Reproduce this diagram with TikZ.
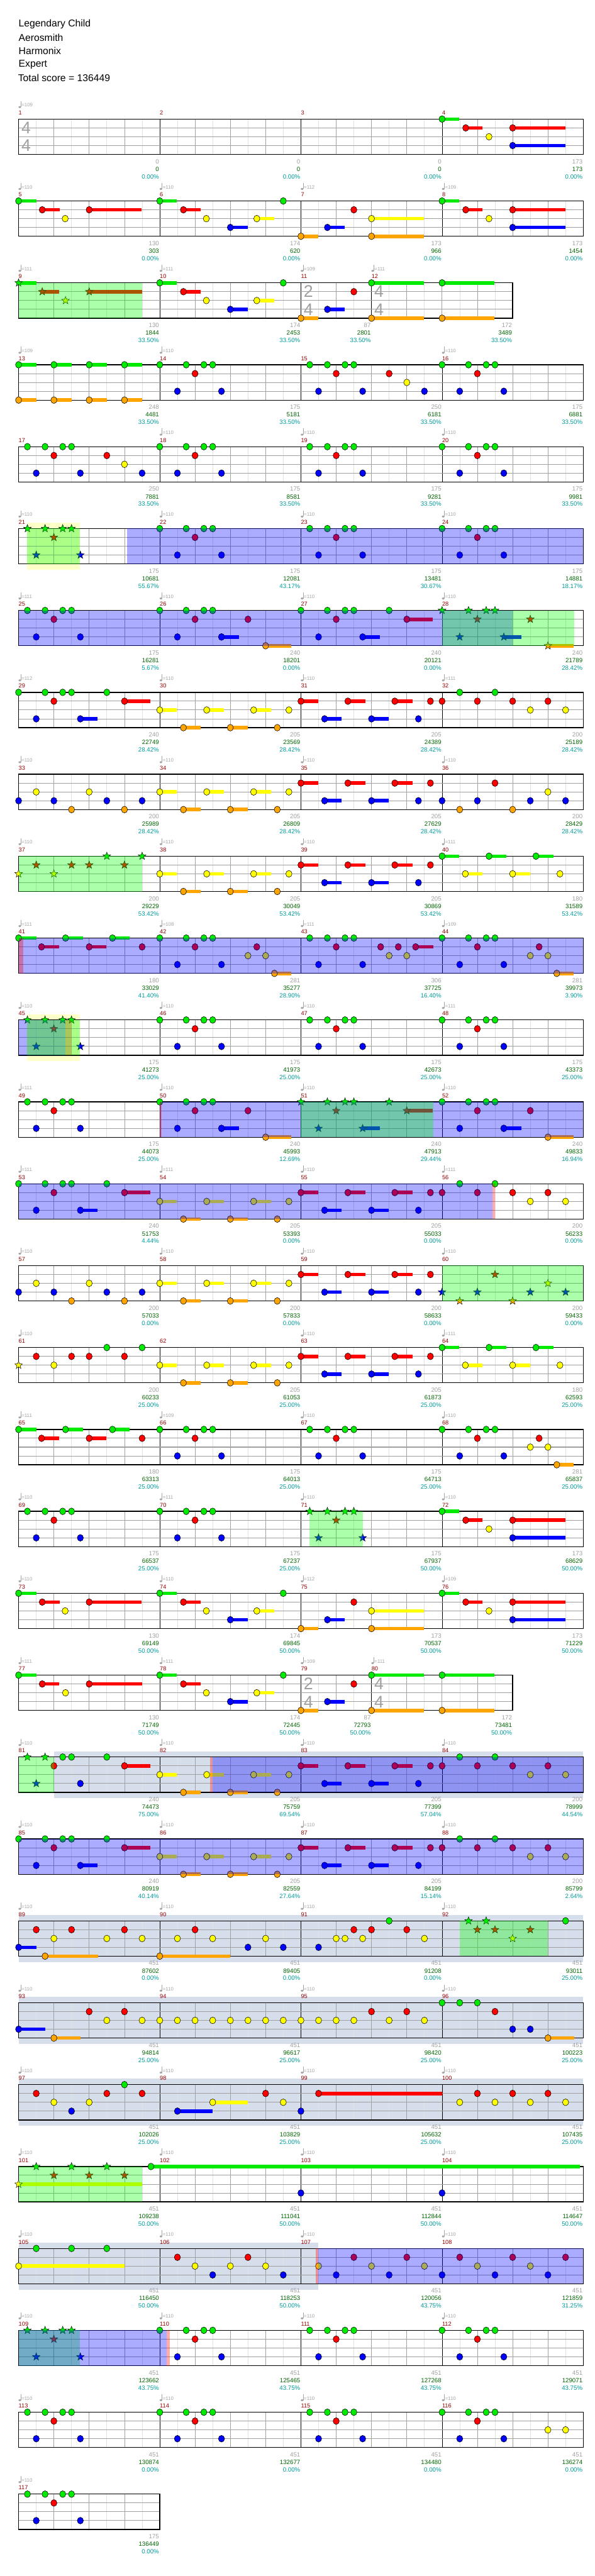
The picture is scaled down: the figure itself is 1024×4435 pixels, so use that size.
\documentclass[tikz,border=0pt]{standalone}
\usepackage{fontspec}
\setmainfont{Liberation Sans}
\usetikzlibrary{shapes.geometric}
\definecolor{lane0}{RGB}{0,235,0}
\definecolor{lane1}{RGB}{255,0,0}
\definecolor{lane2}{RGB}{255,255,0}
\definecolor{lane3}{RGB}{0,0,255}
\definecolor{lane4}{RGB}{255,165,0}
\definecolor{mred}{RGB}{150,0,0}
\definecolor{labgray}{RGB}{160,160,160}
\definecolor{labgreen}{RGB}{0,100,0}
\definecolor{labteal}{RGB}{0,155,155}
\definecolor{tempocol}{RGB}{165,165,165}
\definecolor{solocol}{RGB}{255,255,200}
\definecolor{solobcol}{RGB}{214,222,236}
\definecolor{glight}{RGB}{225,225,225}
\definecolor{gbeat}{RGB}{160,160,160}
\tikzset{
 notedraw/.style={draw=black,line width=0.6pt},
 starnote/.style={star,star points=5,star point ratio=2.4,minimum size=14pt,inner sep=0pt,draw=black,line width=0.5pt},
 gridlight/.style={draw=glight,line width=0.7pt},
 gridbeat/.style={draw=gbeat,line width=0.8pt},
 measline/.style={draw=black,line width=0.7pt},
 laneline/.style={draw=gbeat,line width=1.1pt},
 border/.style={draw=black,line width=1.4pt},
 mnum/.style={anchor=west,inner sep=0pt,text=mred,font=\fontsize{10}{10}\selectfont},
 tempo/.style={anchor=west,inner sep=0pt,text=tempocol,font=\fontsize{8.5}{9}\selectfont},
 lab/.style={anchor=east,inner sep=0pt,xshift=-1pt,font=\fontsize{10.5}{11}\selectfont},
 tsigf/.style={inner sep=0pt,text=gbeat,font=\fontsize{29}{29}\selectfont},
 titletext/.style={anchor=west,inner sep=0pt,font=\fontsize{17}{17}\selectfont},
 rowat/.style={shift={(32,205+141*#1)},x=60.75pt,y=-15.2pt}
}
\newcommand\hn[2]{\draw[notedraw,fill=lane#1] (#2,#1) ellipse [x radius=5.3pt,y radius=5.8pt];}
\newcommand\hs[3]{\fill[lane#1] (#2,#1-0.2) rectangle (#3,#1+0.2);\hn{#1}{#2}}
\newcommand\hx[2]{\node[starnote,fill=lane#1] at (#2,#1) {};}
\newcommand\hxs[3]{\fill[lane#1] (#2,#1-0.2) rectangle (#3,#1+0.2);\hx{#1}{#2}}
\newcommand\meas[7]{%
  \pgfmathtruncatemacro\mnn{2*#2-1}%
  \foreach \k in {1,...,\mnn}{%
    \pgfmathtruncatemacro\modd{mod(\k,2)}%
    \ifnum\modd=1 \draw[gridlight] (#1+\k/2,0)--(#1+\k/2,4);%
    \else \draw[gridbeat] (#1+\k/2,0)--(#1+\k/2,4);\fi}%
  \draw[measline] (#1,0)--(#1,4);%
  \node[mnum] at (#1,-0.72) {#3};%
  \if\relax\detokenize{#4}\relax\else
    \fill[tempocol] ([xshift=2pt]#1,-1.36) ellipse [x radius=2.2pt,y radius=1.7pt];%
    \draw[tempocol,line width=0.6pt] ([xshift=4pt]#1,-1.36)--([xshift=4pt]#1,-2.05);%
    \node[tempo] at ([xshift=5pt]#1,-1.58) {=#4};%
  \fi
  \node[lab,text=labgray] at (#1+#2,4.8) {#5};%
  \node[lab,text=labgreen] at (#1+#2,5.66) {#6};%
  \node[lab,text=labteal] at (#1+#2,6.51) {#7};%
}
\newcommand\staff[1]{\draw[laneline] (0,1)--(#1,1) (0,2)--(#1,2) (0,3)--(#1,3);\draw[border] (0,0) rectangle (#1,4);}
\newcommand\ovb[2]{\fill[blue,opacity=0.33] (#1,0) rectangle (#2,4);}
\newcommand\ovg[2]{\fill[green,opacity=0.33] (#1,0) rectangle (#2,4);}
\newcommand\ovr[2]{\fill[red,opacity=0.33] (#1,0) rectangle (#2,4);}
\newcommand\solo[2]{\fill[solocol] (#1,-0.66) rectangle (#2,4.66);}
\newcommand\solob[2]{\fill[solobcol] (#1,-0.66) rectangle (#2,4.66);}
\newcommand\tsig[3]{\node[tsigf] at ([xshift=13pt]#1,0.97) {#2};\node[tsigf] at ([xshift=13pt]#1,3.01) {#3};}
% patterns
\newcommand\gA[1]{\hn{0}{#1}\hn{0}{#1+.75}\hn{0}{#1+1.25}\hn{0}{#1+1.5}\hn{1}{#1+1}\hn{3}{#1+.5}\hn{3}{#1+1.75}}
\newcommand\gB[1]{\hn{0}{#1+.25}\hn{0}{#1+.75}\hn{0}{#1+1.25}\hn{0}{#1+1.5}\hn{1}{#1+1}\hn{3}{#1+.5}\hn{3}{#1+1.75}}
\newcommand\gBs[1]{\hx{0}{#1+.25}\hx{0}{#1+.75}\hx{0}{#1+1.25}\hx{0}{#1+1.5}\hx{1}{#1+1}\hx{3}{#1+.5}\hx{3}{#1+1.75}}
\newcommand\runY[1]{\hs{2}{#1}{#1+.49}\hs{2}{#1+1.33}{#1+1.82}\hs{2}{#1+2.66}{#1+3.15}\hn{2}{#1+3.66}\hs{4}{#1+.67}{#1+1.15}\hs{4}{#1+2}{#1+2.49}\hn{4}{#1+3.33}}
\newcommand\runR[1]{\hs{1}{#1}{#1+.49}\hs{1}{#1+1.33}{#1+1.82}\hs{1}{#1+2.66}{#1+3.16}\hn{1}{#1+3.67}\hs{3}{#1+.67}{#1+1.16}\hs{3}{#1+2}{#1+2.49}\hn{3}{#1+3.33}}
\newcommand\riff[1]{\hs{0}{#1}{#1+.49}\hs{1}{#1+.67}{#1+1.15}\hs{1}{#1+2}{#1+3.49}\hn{2}{#1+1.33}\hs{3}{#1+2}{#1+3.49}}
\newcommand\pA[1]{\hn{2}{#1+.5}\hn{2}{#1+2}\hn{3}{#1}\hn{3}{#1+1}\hn{3}{#1+2.5}\hn{3}{#1+3.5}\hn{4}{#1+1.5}\hn{4}{#1+3}}
\newcommand\pB[1]{\hn{0}{#1}\hn{0}{#1+.75}\hn{0}{#1+1.25}\hn{0}{#1+1.5}\hn{0}{#1+2.5}\hn{1}{#1+1}\hs{1}{#1+3}{#1+3.74}\hn{3}{#1+.5}\hs{3}{#1+1.75}{#1+2.24}}
\newcommand\pBs[1]{\hx{0}{#1}\hx{0}{#1+.75}\hx{0}{#1+1.25}\hx{0}{#1+1.5}\hx{0}{#1+2.5}\hx{1}{#1+1}\hxs{1}{#1+3}{#1+3.74}\hx{3}{#1+.5}\hxs{3}{#1+1.75}{#1+2.24}}
\newcommand\pC[1]{\hs{0}{#1}{#1+.49}\hs{0}{#1+1.33}{#1+1.82}\hs{0}{#1+2.66}{#1+3.15}\hs{2}{#1+.66}{#1+1.14}\hs{2}{#1+2}{#1+2.5}\hn{2}{#1+3.34}}
\newcommand\pD[1]{\hs{0}{#1}{#1+.5}\hs{0}{#1+1.33}{#1+1.82}\hs{0}{#1+2.66}{#1+3.15}\hs{1}{#1+.65}{#1+1.14}\hs{1}{#1+2}{#1+2.49}\hn{1}{#1+3.5}}
\newcommand\pE[1]{\gA{#1}\hn{1}{#1+2.5}\hs{3}{#1+1.75}{#1+2.24}\hs{4}{#1+3}{#1+3.73}}
\newcommand\pG[1]{\hn{1}{#1}\hn{1}{#1+1}\hn{1}{#1+2}\hn{1}{#1+3}\hn{0}{#1+.5}\hn{0}{#1+1.5}\hn{2}{#1+2.5}\hn{2}{#1+3.5}}
\newcommand\pH[1]{\hn{3}{#1}\hn{3}{#1+1}\hn{3}{#1+2.5}\hn{3}{#1+3.5}\hn{1}{#1+1.5}\hn{2}{#1+3}\hn{4}{#1+.5}\hn{4}{#1+2}}
\newcommand\pHs[1]{\hx{3}{#1}\hx{3}{#1+1}\hx{3}{#1+2.5}\hx{3}{#1+3.5}\hx{1}{#1+1.5}\hx{2}{#1+3}\hx{4}{#1+.5}\hx{4}{#1+2}}
\newcommand\pK[1]{\gA{#1}\hn{1}{#1+2.75}\hn{2}{#1+2.5}\hn{2}{#1+3}\hs{4}{#1+3.25}{#1+3.73}}
\newcommand\introA{\hs{0}{0}{.5}\hs{1}{.67}{1.16}\hs{1}{2}{3.48}\hn{2}{1.32}\hs{3}{6}{6.49}\hs{0}{4}{4.49}\hs{1}{4.67}{5.15}\hn{2}{5.32}\hs{2}{6.75}{7.24}\hn{0}{7.5}\hs{4}{8}{8.49}\hs{3}{8.75}{9.24}\hn{1}{9.5}\hs{2}{10}{11.49}\hs{4}{10}{11.49}\riff{12}}
\newcommand\introB{\hs{0}{4}{4.49}\hs{1}{4.67}{5.15}\hn{2}{5.32}\hs{3}{6}{6.49}\hs{2}{6.75}{7.24}\hn{0}{7.5}\hs{4}{8}{8.49}\hs{3}{8.75}{9.24}\hn{1}{9.5}\hs{0}{10}{11.49}\hs{4}{10}{11.49}\hs{0}{12}{13.49}\hs{4}{12}{13.49}}
\begin{document}
\begin{tikzpicture}[x=1pt,y=-1pt]
\useasboundingbox (0,0) rectangle (1024,4435);
\fill[white] (0,0) rectangle (1024,4435);
\node[titletext] (t1) at (32,41.7) {Legendary Child};
\node[titletext] (t2) at (32,65) {Aerosmith};
\node[titletext] (t3) at (32,88) {Harmonix};
\node[titletext] (t4) at (32,111) {Expert};
\node[titletext] (t5) at (31,134) {Total score = 136449};
% row 0
\begin{scope}[rowat=0]
\meas{0}{4}{1}{109}{0}{0}{0.00\%}\meas{4}{4}{2}{}{0}{0}{0.00\%}\meas{8}{4}{3}{}{0}{0}{0.00\%}\meas{12}{4}{4}{}{173}{173}{0.00\%}
\staff{16}\tsig{0}{4}{4}
\riff{12}
\end{scope}
% row 1
\begin{scope}[rowat=1]
\meas{0}{4}{5}{110}{130}{303}{0.00\%}\meas{4}{4}{6}{110}{174}{620}{0.00\%}\meas{8}{4}{7}{112}{173}{966}{0.00\%}\meas{12}{4}{8}{109}{173}{1454}{0.00\%}
\staff{16}
\introA
\end{scope}
% row 2
\begin{scope}[rowat=2]
\meas{0}{4}{9}{111}{130}{1844}{33.50\%}\meas{4}{4}{10}{111}{174}{2453}{33.50\%}\meas{8}{2}{11}{109}{87}{2801}{33.50\%}\meas{10}{4}{12}{111}{172}{3489}{33.50\%}
\staff{14}\tsig{8}{2}{4}\tsig{10}{4}{4}
\hxs{0}{0}{.5}\hxs{1}{.67}{1.15}\hx{2}{1.33}\hxs{1}{2}{3.5}
\introB
\ovg{0}{3.5}
\end{scope}
% row 3
\begin{scope}[rowat=3]
\meas{0}{4}{13}{109}{248}{4481}{33.50\%}\meas{4}{4}{14}{110}{175}{5181}{33.50\%}\meas{8}{4}{15}{}{250}{6181}{33.50\%}\meas{12}{4}{16}{110}{175}{6881}{33.50\%}
\staff{16}
\foreach \s in {0,1,2,3}{\hs{0}{\s}{\s+.5}\hs{4}{\s}{\s+.5}}
\gA{4}\gB{8}\hn{1}{10.5}\hn{2}{11}\hn{3}{11.5}\gA{12}
\end{scope}
% row 4
\begin{scope}[rowat=4]
\meas{0}{4}{17}{}{250}{7881}{33.50\%}\meas{4}{4}{18}{110}{175}{8581}{33.50\%}\meas{8}{4}{19}{110}{175}{9281}{33.50\%}\meas{12}{4}{20}{110}{175}{9981}{33.50\%}
\staff{16}
\gB{0}\hn{1}{2.5}\hn{2}{3}\hn{3}{3.5}\gA{4}\gB{8}\gA{12}
\end{scope}
% row 5
\begin{scope}[rowat=5]
\solo{.24}{1.73}
\meas{0}{4}{21}{110}{175}{10681}{55.67\%}\meas{4}{4}{22}{110}{175}{12081}{43.17\%}\meas{8}{4}{23}{110}{175}{13481}{30.67\%}\meas{12}{4}{24}{110}{175}{14881}{18.17\%}
\staff{16}
\gBs{0}\gA{4}\gB{8}\gA{12}
\ovg{.24}{1.73}\ovb{3.07}{16}
\end{scope}
% row 6
\begin{scope}[rowat=6]
\meas{0}{4}{25}{111}{175}{16281}{5.67\%}\meas{4}{4}{26}{110}{240}{18201}{0.00\%}\meas{8}{4}{27}{110}{240}{20121}{0.00\%}\meas{12}{4}{28}{110}{240}{21789}{28.42\%}
\staff{16}
\gB{0}\pE{4}\pB{8}
\hx{0}{12}\hx{0}{12.75}\hx{0}{13.25}\hx{0}{13.5}\hx{1}{13}\hx{1}{14.5}\hx{3}{12.5}\hxs{3}{13.75}{14.25}\hxs{4}{15}{15.73}
\ovb{0}{14}\ovg{12}{15.75}
\end{scope}
% row 7
\begin{scope}[rowat=7]
\meas{0}{4}{29}{112}{240}{22749}{28.42\%}\meas{4}{4}{30}{110}{205}{23569}{28.42\%}\meas{8}{4}{31}{110}{205}{24389}{28.42\%}\meas{12}{4}{32}{111}{200}{25189}{28.42\%}
\staff{16}
\pB{0}\runY{4}\runR{8}\pG{12}
\end{scope}
% row 8
\begin{scope}[rowat=8]
\meas{0}{4}{33}{110}{200}{25989}{28.42\%}\meas{4}{4}{34}{110}{205}{26809}{28.42\%}\meas{8}{4}{35}{110}{205}{27629}{28.42\%}\meas{12}{4}{36}{110}{200}{28429}{28.42\%}
\staff{16}
\pA{0}\runY{4}\runR{8}\pH{12}
\end{scope}
% row 9
\begin{scope}[rowat=9]
\meas{0}{4}{37}{110}{200}{29229}{53.42\%}\meas{4}{4}{38}{110}{205}{30049}{53.42\%}\meas{8}{4}{39}{110}{205}{30869}{53.42\%}\meas{12}{4}{40}{111}{180}{31589}{53.42\%}
\staff{16}
\hx{0}{2.5}\hx{0}{3.5}\hx{1}{.5}\hx{1}{1.5}\hx{1}{2}\hx{1}{3}\hx{2}{0}\hx{2}{1}
\runY{4}\runR{8}\pC{12}
\ovg{0}{3.5}
\end{scope}
% row 10
\begin{scope}[rowat=10]
\meas{0}{4}{41}{111}{180}{33029}{41.40\%}\meas{4}{4}{42}{108}{281}{35277}{28.90\%}\meas{8}{4}{43}{111}{306}{37725}{16.40\%}\meas{12}{4}{44}{109}{281}{39973}{3.90\%}
\staff{16}
\pD{0}\pK{4}
\gB{8}\hn{1}{10.26}\hn{1}{10.76}\hs{1}{11.25}{11.75}\hn{2}{10.5}\hn{2}{11}
\pK{12}
\ovb{0}{16}\ovr{0}{.14}
\end{scope}
% row 11
\begin{scope}[rowat=11]
\solo{.24}{1.73}
\meas{0}{4}{45}{110}{175}{41273}{25.00\%}\meas{4}{4}{46}{110}{175}{41973}{25.00\%}\meas{8}{4}{47}{110}{175}{42673}{25.00\%}\meas{12}{4}{48}{111}{175}{43373}{25.00\%}
\staff{16}
\gBs{0}\gA{4}\gB{8}\gA{12}
\ovb{0}{1.33}\ovr{1.33}{1.5}\ovg{.24}{1.73}
\end{scope}
% row 12
\begin{scope}[rowat=12]
\meas{0}{4}{49}{111}{175}{44073}{25.00\%}\meas{4}{4}{50}{110}{240}{45993}{12.69\%}\meas{8}{4}{51}{110}{240}{47913}{29.44\%}\meas{12}{4}{52}{110}{240}{49833}{16.94\%}
\staff{16}
\gB{0}\pE{4}\pBs{8}\pE{12}
\ovb{4}{16}\ovr{4}{4.05}\ovg{8}{11.75}
\end{scope}
% row 13
\begin{scope}[rowat=13]
\meas{0}{4}{53}{111}{240}{51753}{4.44\%}\meas{4}{4}{54}{111}{205}{53393}{0.00\%}\meas{8}{4}{55}{110}{205}{55033}{0.00\%}\meas{12}{4}{56}{111}{200}{56233}{0.00\%}
\staff{16}
\pB{0}\runY{4}\runR{8}\pG{12}
\ovb{0}{13.42}\ovr{13.42}{13.5}
\end{scope}
% row 14
\begin{scope}[rowat=14]
\meas{0}{4}{57}{110}{200}{57033}{0.00\%}\meas{4}{4}{58}{110}{200}{57833}{0.00\%}\meas{8}{4}{59}{110}{200}{58633}{0.00\%}\meas{12}{4}{60}{110}{200}{59433}{0.00\%}
\staff{16}
\pA{0}\runY{4}\runR{8}\pHs{12}
\ovg{12}{16}
\end{scope}
% row 15
\begin{scope}[rowat=15]
\meas{0}{4}{61}{110}{200}{60233}{25.00\%}\meas{4}{4}{62}{}{205}{61053}{25.00\%}\meas{8}{4}{63}{110}{205}{61873}{25.00\%}\meas{12}{4}{64}{111}{180}{62593}{25.00\%}
\staff{16}
\hx{2}{0}\hn{1}{.5}\hn{1}{1.5}\hn{1}{2}\hn{1}{3}\hn{0}{2.5}\hn{0}{3.5}\hn{2}{1}
\runY{4}\runR{8}\pC{12}
\end{scope}
% row 16
\begin{scope}[rowat=16]
\meas{0}{4}{65}{111}{180}{63313}{25.00\%}\meas{4}{4}{66}{109}{175}{64013}{25.00\%}\meas{8}{4}{67}{110}{175}{64713}{25.00\%}\meas{12}{4}{68}{110}{281}{65837}{25.00\%}
\staff{16}
\pD{0}\gA{4}\gB{8}\pK{12}
\end{scope}
% row 17
\begin{scope}[rowat=17]
\meas{0}{4}{69}{110}{175}{66537}{25.00\%}\meas{4}{4}{70}{111}{175}{67237}{25.00\%}\meas{8}{4}{71}{110}{175}{67937}{50.00\%}\meas{12}{4}{72}{110}{173}{68629}{50.00\%}
\staff{16}
\gB{0}\gA{4}\gBs{8}\riff{12}
\ovg{8.25}{9.75}
\end{scope}
% row 18
\begin{scope}[rowat=18]
\meas{0}{4}{73}{110}{130}{69149}{50.00\%}\meas{4}{4}{74}{110}{174}{69845}{50.00\%}\meas{8}{4}{75}{112}{173}{70537}{50.00\%}\meas{12}{4}{76}{109}{173}{71229}{50.00\%}
\staff{16}
\introA
\end{scope}
% row 19
\begin{scope}[rowat=19]
\meas{0}{4}{77}{111}{130}{71749}{50.00\%}\meas{4}{4}{78}{111}{174}{72445}{50.00\%}\meas{8}{2}{79}{109}{87}{72793}{50.00\%}\meas{10}{4}{80}{111}{172}{73481}{50.00\%}
\staff{14}\tsig{8}{2}{4}\tsig{10}{4}{4}
\hs{0}{0}{.5}\hs{1}{.67}{1.15}\hn{2}{1.33}\hs{1}{2}{3.5}
\introB
\end{scope}
% row 20
\begin{scope}[rowat=20]
\solob{1}{16}
\meas{0}{4}{81}{110}{240}{74473}{75.00\%}\meas{4}{4}{82}{110}{205}{75759}{69.54\%}\meas{8}{4}{83}{110}{205}{77399}{57.04\%}\meas{12}{4}{84}{110}{200}{78999}{44.54\%}
\staff{16}
\hx{0}{.25}\hx{3}{.5}\hx{0}{.75}\hn{1}{1}\hn{0}{1.25}\hn{0}{1.5}\hn{3}{1.75}\hn{0}{2.5}\hs{1}{3}{3.74}
\runY{4}\runR{8}\pG{12}
\ovg{0}{1}\ovr{5.42}{5.5}\ovb{5.5}{16}
\end{scope}
% row 21
\begin{scope}[rowat=21]
\meas{0}{4}{85}{110}{240}{80919}{40.14\%}\meas{4}{4}{86}{110}{205}{82559}{27.64\%}\meas{8}{4}{87}{110}{205}{84199}{15.14\%}\meas{12}{4}{88}{110}{200}{85799}{2.64\%}
\staff{16}
\pB{0}\runY{4}\runR{8}\pG{12}
\ovb{0}{16}
\end{scope}
% row 22
\begin{scope}[rowat=22]
\solob{0}{16}
\meas{0}{4}{89}{110}{451}{87602}{0.00\%}\meas{4}{4}{90}{110}{451}{89405}{0.00\%}\meas{8}{4}{91}{110}{451}{91208}{0.00\%}\meas{12}{4}{92}{110}{451}{93011}{25.00\%}
\staff{16}
\hs{3}{0}{.5}\hs{4}{.75}{2.25}\hn{1}{.5}\hn{2}{1}\hn{1}{1.5}\hn{2}{2.5}\hn{1}{3}\hn{2}{3.5}
\hs{4}{4}{6}\hn{2}{4.5}\hn{1}{5}\hn{2}{5.5}\hn{3}{6.5}\hn{2}{7}\hn{3}{7.5}
\hn{3}{8.5}\hn{2}{9}\hn{2}{9.25}\hn{1}{9.5}\hn{2}{9.75}\hn{1}{10}\hn{0}{10.5}\hn{1}{11}\hn{2}{11.5}
\hx{0}{12.75}\hx{1}{13}\hx{0}{13.25}\hx{1}{13.5}\hx{2}{14}\hx{1}{14.5}\hn{0}{15.5}
\ovg{12.5}{15}
\end{scope}
% row 23
\begin{scope}[rowat=23]
\solob{0}{16}
\meas{0}{4}{93}{110}{451}{94814}{25.00\%}\meas{4}{4}{94}{110}{451}{96617}{25.00\%}\meas{8}{4}{95}{110}{451}{98420}{25.00\%}\meas{12}{4}{96}{110}{451}{100223}{25.00\%}
\staff{16}
\hs{3}{0}{.75}\hs{4}{1}{1.75}\hn{1}{2}\hn{2}{2.5}\hn{1}{3}\hn{2}{3.5}
\foreach \t in {4,4.5,...,9.5}{\hn{2}{\t}}
\hn{1}{10}\hn{2}{10.5}\hn{1}{11}\hn{2}{11.5}
\hn{0}{12}\hn{0}{12.5}\hn{0}{13}\hn{1}{13.5}\hn{3}{14}\hn{3}{14.5}\hs{4}{15}{15.75}
\end{scope}
% row 24
\begin{scope}[rowat=24]
\solob{0}{16}
\meas{0}{4}{97}{110}{451}{102026}{25.00\%}\meas{4}{4}{98}{110}{451}{103829}{25.00\%}\meas{8}{4}{99}{110}{451}{105632}{25.00\%}\meas{12}{4}{100}{110}{451}{107435}{25.00\%}
\staff{16}
\hn{1}{.5}\hn{2}{1}\hn{3}{1.5}\hn{2}{2}\hn{1}{2.5}\hn{0}{3}\hn{1}{3.5}
\hs{3}{4.5}{5.5}\hs{2}{5.5}{6.5}\hn{1}{7}\hn{2}{7.5}
\hn{3}{8}\hs{1}{8.5}{12}\hn{2}{12.5}\hn{1}{13}\hn{2}{13.5}\hn{1}{14}\hn{2}{14.5}\hn{1}{15}\hn{2}{15.5}
\end{scope}
% row 25
\begin{scope}[rowat=25]
\meas{0}{4}{101}{110}{451}{109238}{50.00\%}\meas{4}{4}{102}{110}{451}{111041}{50.00\%}\meas{8}{4}{103}{110}{451}{112844}{50.00\%}\meas{12}{4}{104}{110}{451}{114647}{50.00\%}
\staff{16}
\hxs{2}{0}{3.5}\hx{0}{.5}\hx{1}{1}\hx{0}{1.5}\hx{1}{2}\hx{0}{2.5}\hx{1}{3}
\hs{0}{3.75}{15.9}\hn{3}{8}\hn{3}{12}
\ovg{0}{3.5}
\end{scope}
% row 26
\begin{scope}[rowat=26]
\solob{0}{8.5}
\meas{0}{4}{105}{110}{451}{116450}{50.00\%}\meas{4}{4}{106}{110}{451}{118253}{50.00\%}\meas{8}{4}{107}{110}{451}{120056}{43.75\%}\meas{12}{4}{108}{110}{451}{121859}{31.25\%}
\staff{16}
\hs{2}{0}{3}\hn{0}{.5}\hn{0}{1.5}\hn{0}{2.5}
\hn{1}{4.5}\hn{2}{5}\hn{3}{5.5}\hn{2}{6}\hn{1}{6.5}\hn{2}{7}\hn{3}{7.5}
\foreach \t [count=\i] in {8.5,9,...,15.5}{\pgfmathtruncatemacro\lnn{mod(\i,3)+1}\hn{\lnn}{\t}}
\ovr{8.42}{8.5}\ovb{8.5}{16}
\end{scope}
% row 27
\begin{scope}[rowat=27]
\meas{0}{4}{109}{110}{451}{123662}{43.75\%}\meas{4}{4}{110}{110}{451}{125465}{43.75\%}\meas{8}{4}{111}{110}{451}{127268}{43.75\%}\meas{12}{4}{112}{110}{451}{129071}{43.75\%}
\staff{16}
\gBs{0}\gA{4}\gB{8}\gA{12}
\ovg{0}{1.73}\ovb{0}{4.2}\ovr{4.2}{4.28}
\end{scope}
% row 28
\begin{scope}[rowat=28]
\meas{0}{4}{113}{110}{451}{130874}{0.00\%}\meas{4}{4}{114}{110}{451}{132677}{0.00\%}\meas{8}{4}{115}{110}{451}{134480}{0.00\%}\meas{12}{4}{116}{110}{451}{136274}{0.00\%}
\staff{16}
\gB{0}\gA{4}\gB{8}\gA{12}\hn{2}{15}\hn{2}{15.5}
\end{scope}
% row 29
\begin{scope}[rowat=29]
\meas{0}{4}{117}{110}{175}{136449}{0.00\%}
\staff{4}
\gB{0}
\end{scope}
\end{tikzpicture}
\end{document}
